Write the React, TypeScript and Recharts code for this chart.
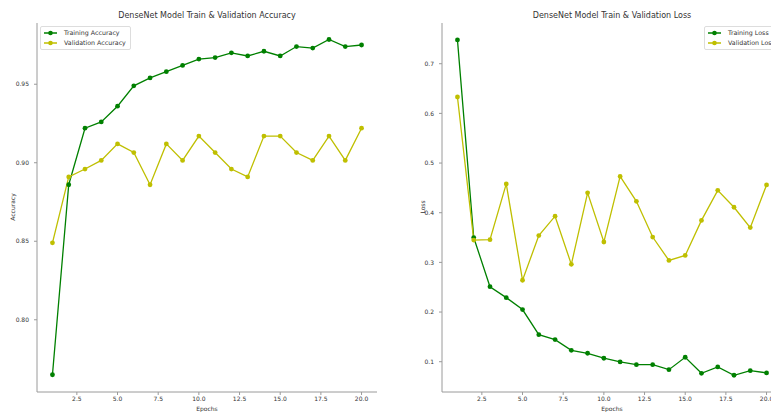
import React from 'react';
import { LineChart, Line, XAxis, YAxis } from 'recharts';

const epochs = [1, 2, 3, 4, 5, 6, 7, 8, 9, 10, 11, 12, 13, 14, 15, 16, 17, 18, 19, 20];

const trainAcc = [0.765, 0.886, 0.922, 0.926, 0.936, 0.949, 0.954, 0.958, 0.962, 0.966, 0.967, 0.970, 0.968, 0.971, 0.968, 0.974, 0.973, 0.9785, 0.974, 0.975];
const valAcc = [0.849, 0.891, 0.896, 0.9015, 0.912, 0.9065, 0.886, 0.912, 0.9015, 0.917, 0.9065, 0.896, 0.891, 0.917, 0.917, 0.9065, 0.9015, 0.917, 0.9015, 0.922];

const trainLoss = [0.748, 0.350, 0.251, 0.229, 0.205, 0.1545, 0.1445, 0.123, 0.117, 0.107, 0.0996, 0.094, 0.094, 0.084, 0.109, 0.0767, 0.0895, 0.0727, 0.082, 0.0775];
const valLoss = [0.633, 0.345, 0.3457, 0.458, 0.264, 0.354, 0.393, 0.296, 0.440, 0.341, 0.473, 0.423, 0.351, 0.304, 0.314, 0.3845, 0.445, 0.411, 0.370, 0.456];

const xTicks = [2.5, 5, 7.5, 10, 12.5, 15, 17.5, 20];
const accTicks = [0.8, 0.85, 0.9, 0.95];
const lossTicks = [0.1, 0.2, 0.3, 0.4, 0.5, 0.6, 0.7];

const GREEN = '#008000';
const YELLOW = '#bfbf00';
const FONT = '"DejaVu Sans", sans-serif';
const AXIS = '#9a9a9a';
const TEXT = '#333';

const accData = epochs.map((e, i) => ({ epoch: e, train: trainAcc[i], val: valAcc[i] }));
const lossData = epochs.map((e, i) => ({ epoch: e, train: trainLoss[i], val: valLoss[i] }));

const LegendBox = ({ left, labels }: { left: number; labels: string[] }) => (
  <div
    style={{
      position: 'absolute',
      left,
      top: 26,
      border: '1px solid #ddd',
      borderRadius: 2,
      background: 'rgba(255,255,255,0.85)',
      padding: '1px 4px 1px 2px',
      fontFamily: FONT,
      fontSize: 6.3,
      color: TEXT,
      lineHeight: '10px',
      whiteSpace: 'nowrap',
    }}
  >
    {labels.map((l, i) => (
      <div key={l} style={{ display: 'flex', alignItems: 'center' }}>
        <svg width={16} height={10} style={{ marginRight: 5 }}>
          <line x1={1} y1={5} x2={14} y2={5} stroke={i === 0 ? GREEN : YELLOW} strokeWidth={1.5} />
          <circle cx={7.5} cy={5} r={2.3} fill={i === 0 ? GREEN : YELLOW} />
        </svg>
        <span>{l}</span>
      </div>
    ))}
  </div>
);

const Panel = ({
  left,
  data,
  domain,
  ticks,
  title,
  yLabel,
  legend,
  legendLeft,
  fmt,
}: {
  left: number;
  data: any[];
  domain: [number, number];
  ticks: number[];
  title: string;
  yLabel: string;
  legend: string[];
  legendLeft: number;
  fmt: (v: number) => string;
}) => (
  <div style={{ position: 'absolute', left, top: 0, width: 385, height: 412 }}>
    <div
      style={{
        position: 'absolute',
        left: 37,
        width: 340,
        top: 11,
        textAlign: 'center',
        fontFamily: FONT,
        fontSize: 8,
        color: TEXT,
      }}
    >
      {title}
    </div>
    <LineChart width={385} height={412} data={data} margin={{ top: 23, right: 8, left: 0, bottom: 0 }}>
      <XAxis
        dataKey="epoch"
        type="number"
        domain={[0.05, 20.95]}
        ticks={xTicks}
        tickFormatter={(v: number) => v.toFixed(1)}
        height={20}
        stroke={AXIS}
        tickSize={3}
        tick={{ fill: TEXT, fontSize: 6, fontFamily: FONT }}
        allowDataOverflow
      />
      <YAxis
        type="number"
        domain={domain}
        ticks={ticks}
        tickFormatter={fmt}
        width={37}
        stroke={AXIS}
        tickSize={3}
        tickMargin={5}
        tick={{ fill: TEXT, fontSize: 6, fontFamily: FONT }}
        allowDataOverflow
      />
      <Line
        dataKey="train"
        stroke={GREEN}
        strokeWidth={1.3}
        dot={{ r: 2.4, fill: GREEN, stroke: GREEN, strokeWidth: 0 }}
        isAnimationActive={false}
      />
      <Line
        dataKey="val"
        stroke={YELLOW}
        strokeWidth={1.3}
        dot={{ r: 2.4, fill: YELLOW, stroke: YELLOW, strokeWidth: 0 }}
        isAnimationActive={false}
      />
    </LineChart>
    <div
      style={{
        position: 'absolute',
        left: 37,
        width: 340,
        top: 405,
        textAlign: 'center',
        fontFamily: FONT,
        fontSize: 6,
        color: TEXT,
      }}
    >
      Epochs
    </div>
    <div
      style={{
        position: 'absolute',
        left: yLabel === 'Loss' ? 17 : 12,
        top: 207,
        transform: 'translate(-50%, -50%) rotate(-90deg)',
        fontFamily: FONT,
        fontSize: 6,
        color: TEXT,
        whiteSpace: 'nowrap',
      }}
    >
      {yLabel}
    </div>
    <LegendBox left={legendLeft} labels={legend} />
  </div>
);

export default function App() {
  return (
    <div
      style={{
        position: 'fixed',
        left: 0,
        top: 0,
        width: 771,
        height: 412,
        overflow: 'hidden',
        background: '#fff',
      }}
    >
      <Panel
        left={0}
        data={accData}
        domain={[0.754, 0.989]}
        ticks={accTicks}
        title="DenseNet Model Train & Validation Accuracy"
        yLabel="Accuracy"
        legend={['Training Accuracy', 'Validation Accuracy']}
        legendLeft={40}
        fmt={(v) => v.toFixed(2)}
      />
      <Panel
        left={405}
        data={lossData}
        domain={[0.039, 0.782]}
        ticks={lossTicks}
        title="DenseNet Model Train & Validation Loss"
        yLabel="Loss"
        legend={['Training Loss', 'Validation Loss']}
        legendLeft={299}
        fmt={(v) => v.toFixed(1)}
      />
    </div>
  );
}
